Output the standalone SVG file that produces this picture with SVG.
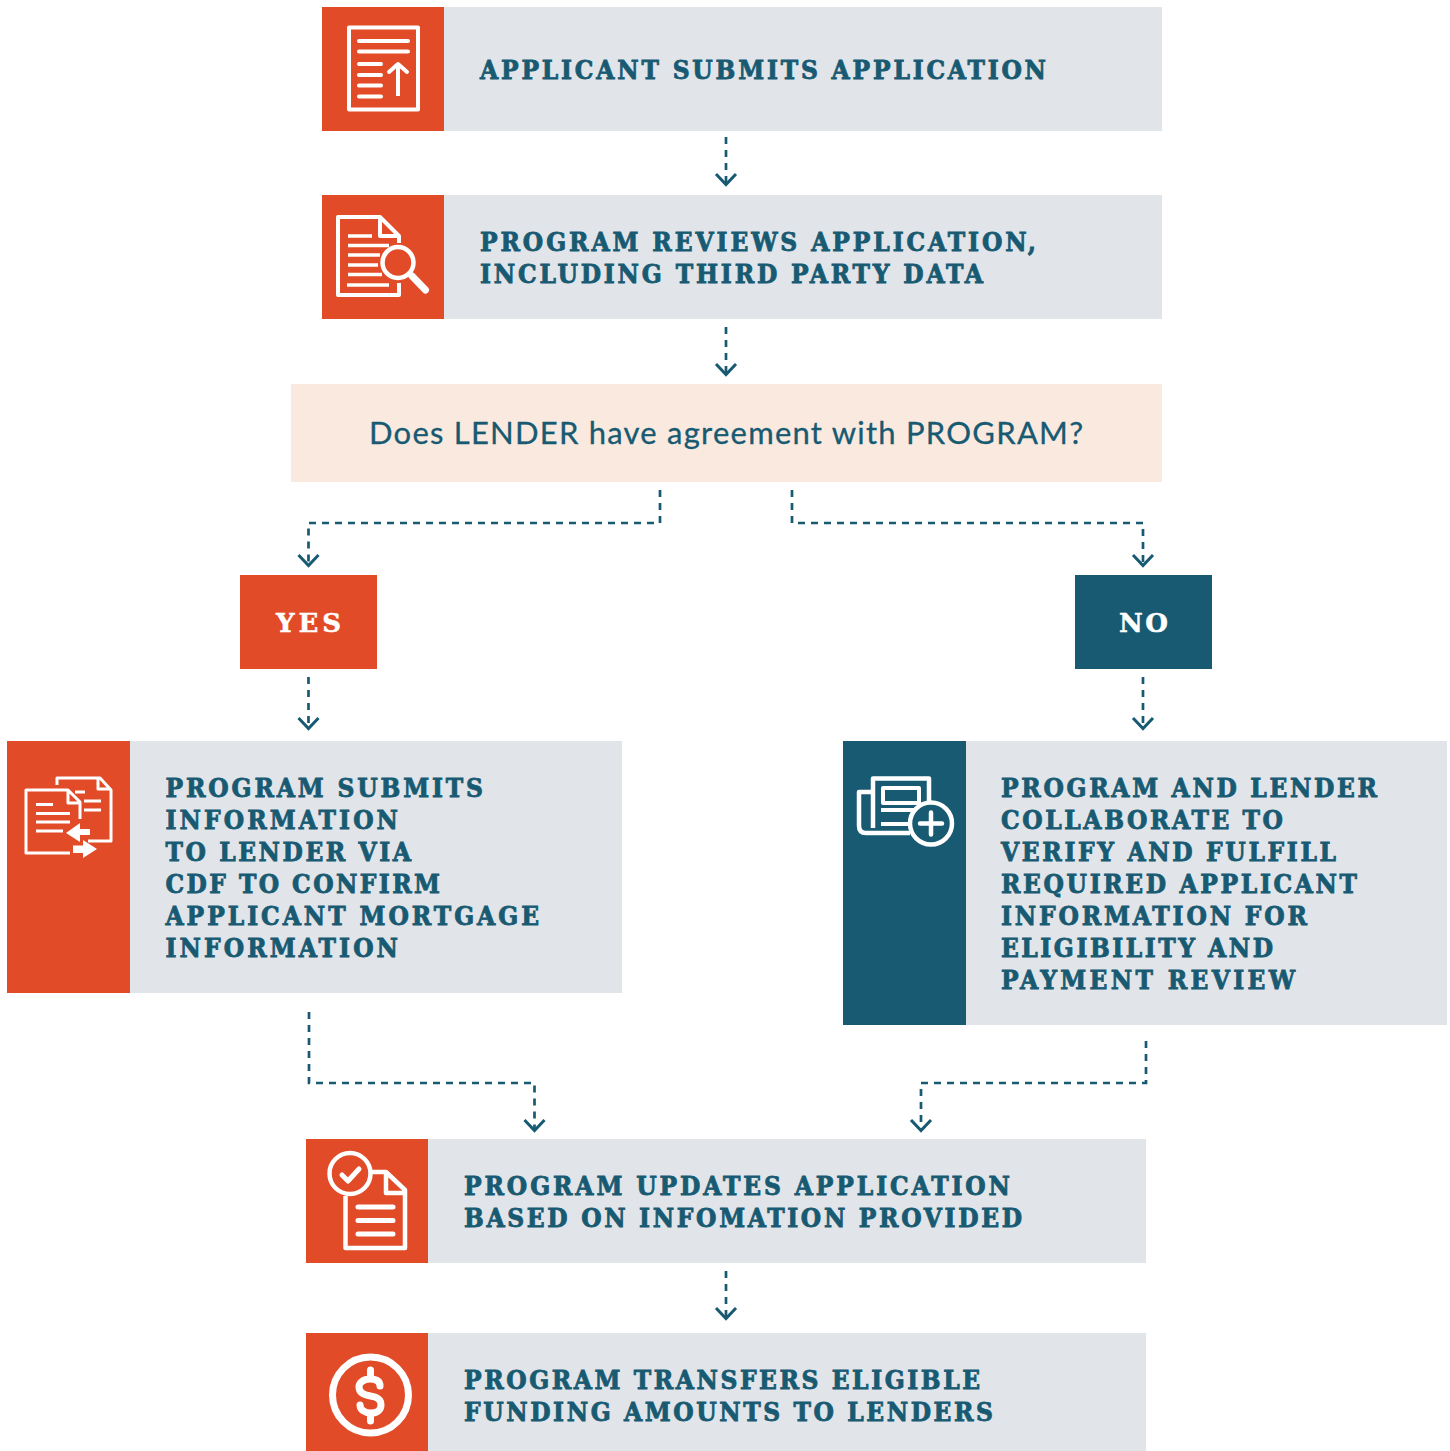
<svg xmlns="http://www.w3.org/2000/svg" width="1450" height="1451" viewBox="0 0 1450 1451">
<style>
.g{fill:#e1e4e9}.o{fill:#e24b27}.t{fill:#175a72}
.l{font-family:"DejaVu Serif Condensed","DejaVu Serif",serif;font-weight:700;font-size:26px;fill:#175a72;stroke:#175a72;stroke-width:.8}
.w{font-family:"DejaVu Serif",serif;font-weight:700;font-size:26px;fill:#fff;stroke:#fff;stroke-width:.5}
.q{font-family:"Lato",sans-serif;font-size:31px;fill:#175a72;stroke:#175a72;stroke-width:.3}
.i{fill:none;stroke:#fff;stroke-width:4;stroke-linejoin:round;stroke-linecap:butt}
.r{stroke-linecap:round}
.c{fill:none;stroke:#175a72;stroke-width:2.700;stroke-dasharray:7 6}
.h{fill:none;stroke:#175a72;stroke-width:3}
</style>
<rect width="1450" height="1451" fill="#fff"/>
<g id="connectors">
<path class="c" d="M726 137V184"/><path class="h" d="M716 174L726 184.500L736 174"/>
<path class="c" d="M726 327V374"/><path class="h" d="M716 364L726 374.500L736 364"/>
<path class="c" d="M660 490V523H308.500V565"/><path class="h" d="M298.500 555L308.500 565.500L318.500 555"/>
<path class="c" d="M792 490V523H1143V565"/><path class="h" d="M1133 555L1143 565.500L1153 555"/>
<path class="c" d="M308.500 677V728"/><path class="h" d="M298.500 718L308.500 728.500L318.500 718"/>
<path class="c" d="M1143 677V728"/><path class="h" d="M1133 718L1143 728.500L1153 718"/>
<path class="c" d="M309 1012V1083H534.500V1130"/><path class="h" d="M524.500 1120L534.500 1130.500L544.500 1120"/>
<path class="c" d="M1146 1041V1083H921V1130"/><path class="h" d="M911 1120L921 1130.500L931 1120"/>
<path class="c" d="M726 1271V1318"/><path class="h" d="M716 1308L726 1318.500L736 1308"/>
</g>
<g id="n1">
<rect class="g" x="322" y="7" width="840" height="124"/><rect class="o" x="322" y="7" width="122" height="124"/>
<rect class="i" x="349" y="27.500" width="69" height="82"/>
<path class="i r" d="M359 41H408M359 51.500H408M359 64H381M359 75H381M359 85.500H381M359 96.500H381"/>
<path class="i" d="M398 96V65"/><path class="i r" d="M389 72L398 64L407 72"/>
<text class="l" x="480" y="79" textLength="566">APPLICANT SUBMITS APPLICATION</text>
</g>
<g id="n2">
<rect class="g" x="322" y="195" width="840" height="124"/><rect class="o" x="322" y="195" width="122" height="124"/>
<path class="i" d="M399 243V236L380 217H338V295H399V283"/><path class="i" d="M380 217V236H399"/>
<path class="i" style="stroke-width:3.500" d="M348 236H372M348 245.500H389M348 255H380M348 265H378M348 274.500H382M347 285H389"/>
<circle class="i" style="stroke-width:4.500" cx="398" cy="262.500" r="15.500"/>
<path class="i r" style="stroke-width:7" d="M412 276L425.500 290"/>
<text class="l" x="480" y="251" textLength="556">PROGRAM REVIEWS APPLICATION,</text>
<text class="l" x="480" y="283" textLength="503">INCLUDING THIRD PARTY DATA</text>
</g>
<g id="n3">
<rect x="291" y="384" width="871" height="98" fill="#fae9df"/>
<text class="q" x="369" y="444" textLength="714">Does LENDER have agreement with PROGRAM?</text>
</g>
<g id="yes">
<rect class="o" x="240" y="575" width="137" height="94"/>
<text class="w" x="276" y="632" textLength="65">YES</text>
</g>
<g id="no">
<rect class="t" x="1075" y="575" width="137" height="94"/>
<text class="w" x="1119" y="632" textLength="49">NO</text>
</g>
<g id="n4">
<rect class="g" x="7" y="741" width="615" height="252"/><rect class="o" x="7" y="741" width="123" height="252"/>
<path class="i" style="stroke-width:3" d="M57 785V778H100L111 790V841H88M98 778V789H111M75 792H85M84 801H101M84 810H101"/>
<path class="i" style="stroke-width:3" d="M70 853H26V790H68L80 802V819M68 790V803H80M36 804.500H53M36 813.500H70M36 822H70M36 831H63"/>
<polygon fill="#fff" points="66,833 80,823 80,829 90,829 90,835 80,835 80,842"/>
<polygon fill="#fff" points="97,849 83,840 83,845.500 73,845.500 73,853 83,853 83,858"/>
<text class="l" x="165.500" y="797" textLength="317.500">PROGRAM SUBMITS</text>
<text class="l" x="165.500" y="829" textLength="232.500">INFORMATION</text>
<text class="l" x="165.500" y="861" textLength="245.500">TO LENDER VIA</text>
<text class="l" x="165.500" y="893" textLength="274.500">CDF TO CONFIRM</text>
<text class="l" x="165.500" y="925" textLength="373.500">APPLICANT MORTGAGE</text>
<text class="l" x="165.500" y="957" textLength="232.500">INFORMATION</text>
</g>
<g id="n5">
<rect class="g" x="843" y="741" width="604" height="284"/><rect class="t" x="843" y="741" width="123" height="284"/>
<path class="i" style="stroke-width:4.500" d="M873 792H859V826Q859 833 866 833H910M873 828V778.500H929V803"/>
<rect class="i" x="883" y="788" width="36" height="15"/>
<path class="i" d="M881 810H915M881 824H908"/>
<circle cx="931" cy="823.500" r="21" fill="#175a72" stroke="#fff" stroke-width="4.500"/>
<path class="i r" style="stroke-width:4.500" d="M920 823.500H942M931 812.500V834.500"/>
<text class="l" x="1001" y="797" textLength="376">PROGRAM AND LENDER</text>
<text class="l" x="1001" y="829" textLength="282">COLLABORATE TO</text>
<text class="l" x="1001" y="861" textLength="335">VERIFY AND FULFILL</text>
<text class="l" x="1001" y="893" textLength="356">REQUIRED APPLICANT</text>
<text class="l" x="1001" y="925" textLength="306">INFORMATION FOR</text>
<text class="l" x="1001" y="957" textLength="272">ELIGIBILITY AND</text>
<text class="l" x="1001" y="989" textLength="294">PAYMENT REVIEW</text>
</g>
<g id="n6">
<rect class="g" x="306" y="1139" width="840" height="124"/><rect class="o" x="306" y="1139" width="122" height="124"/>
<circle class="i" style="stroke-width:4.500" cx="350" cy="1173.500" r="20.500"/>
<path class="i r" style="stroke-width:5" d="M342 1175L348 1181L359 1169"/>
<path class="i" style="stroke-width:4.500" d="M345.500 1196V1248H405V1190L386 1172H371M386 1172V1193H405"/>
<path class="i r" style="stroke-width:5" d="M358 1207H393M358 1220.500H393M358 1234H393"/>
<text class="l" x="464" y="1195" textLength="546">PROGRAM UPDATES APPLICATION</text>
<text class="l" x="464" y="1227" textLength="558">BASED ON INFOMATION PROVIDED</text>
</g>
<g id="n7">
<rect class="g" x="306" y="1333" width="840" height="118"/><rect class="o" x="306" y="1333" width="122" height="118"/>
<circle class="i" style="stroke-width:7" cx="370.500" cy="1395" r="38"/>
<path class="i r" style="stroke-width:7" d="M380 1386C380 1381 376 1379 370 1379C363 1379 359 1383 359 1387C359 1393 364 1395 370.500 1396C377 1397 381 1399 381 1405C381 1410 377 1413 371 1413C365 1413 360 1410 360 1405M370.500 1370V1378M370.500 1414V1421"/>
<text class="l" x="464" y="1389" textLength="516">PROGRAM TRANSFERS ELIGIBLE</text>
<text class="l" x="464" y="1421" textLength="529">FUNDING AMOUNTS TO LENDERS</text>
</g>
</svg>
